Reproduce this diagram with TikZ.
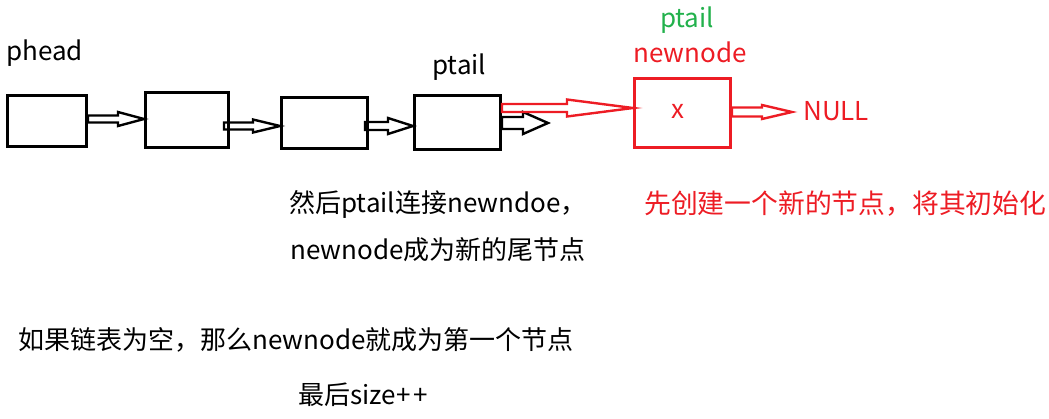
\documentclass[tikz,border=0pt]{standalone}
\usepackage{fontspec}
\setmainfont{Noto Sans CJK SC}
\usetikzlibrary{calc}
\definecolor{pred}{HTML}{ED1C24}
\definecolor{pgreen}{HTML}{22B14C}
\tikzset{
  txt/.style={inner sep=0pt, font=\fontsize{26pt}{30pt}\selectfont},
  nodebox/.style={draw, line width=3pt, inner sep=0pt},
  arrowline/.style={line width=2.4pt, line join=miter},
}
% color, from, to (tip), shaft half, head half, head length
\newcommand\blockarrow[6][black]{%
  \draw[#1, arrowline] let \p1=(#2), \p2=(#3) in
   (\x1,\y2+#4) -- (\x2-#6,\y2+#4) -- (\x2-#6,\y2+#5) -- (\x2,\y2)
   -- (\x2-#6,\y2-#5) -- (\x2-#6,\y2-#4) -- (\x1,\y2-#4) -- cycle;}
\begin{document}
\begin{tikzpicture}[x=1pt,y=-1pt]
\useasboundingbox (0,0) rectangle (1049,418);
% boxes
\node[nodebox, minimum width=79pt, minimum height=51pt] (b1) at (47,121) {};
\node[nodebox, minimum width=83pt, minimum height=55pt] (b2) at (187,120) {};
\node[nodebox, minimum width=86pt, minimum height=51pt] (b3) at (324.5,123) {};
\node[nodebox, minimum width=86pt, minimum height=54pt] (b4) at (457.5,122.5) {};
\node[nodebox, draw=pred, minimum width=96pt, minimum height=69pt] (rb) at (682.5,113) {};
\node[txt, text=pred] (x) at (678,111) {x};
% labels
\node[txt, anchor=base west] (phead) at (6,60) {phead};
\node[txt, anchor=base west] (ptail) at (432,74) {ptail};
\node[txt, anchor=base, text=pgreen] (ptailg) at (687,27) {ptail};
\node[txt, anchor=base, text=pred] (newnode) at (690,62) {newnode};
\node[txt, anchor=base west, text=pred] (null) at (803,120) {NULL};
\coordinate (tailend) at (548,123);
% arrows
\blockarrow{b1.east}{[yshift=1pt]b2.west}{3.5pt}{7pt}{26pt}
\blockarrow{[xshift=-6pt]b2.east}{[yshift=-3pt]b3.west}{3.5pt}{6.5pt}{27pt}
\blockarrow{[xshift=-4pt]b3.east}{[yshift=-3.5pt]b4.west}{4pt}{8pt}{25pt}
\blockarrow{b4.east}{tailend}{6pt}{11pt}{25pt}
\blockarrow[pred]{b4.east}{[yshift=5pt]rb.west}{4pt}{8.5pt}{66pt}
\blockarrow[pred]{rb.east}{[xshift=-11pt,yshift=8pt]null.base west}{4.5pt}{7pt}{30pt}
% texts
\node[txt, anchor=base west] (t1) at (289,212) {然后ptail连接newndoe，};
\node[txt, anchor=base west] (t2) at (290,259) {newnode成为新的尾节点};
\node[txt, anchor=base west, text=pred, font=\fontsize{26.8pt}{30pt}\selectfont] (t3) at (644,213) {先创建一个新的节点，将其初始化};
\node[txt, anchor=base west] (t4) at (18,349) {如果链表为空，那么newnode就成为第一个节点};
\node[txt, anchor=base west] (t5) at (298,404) {最后size+\kern3pt+};
\end{tikzpicture}
\end{document}
